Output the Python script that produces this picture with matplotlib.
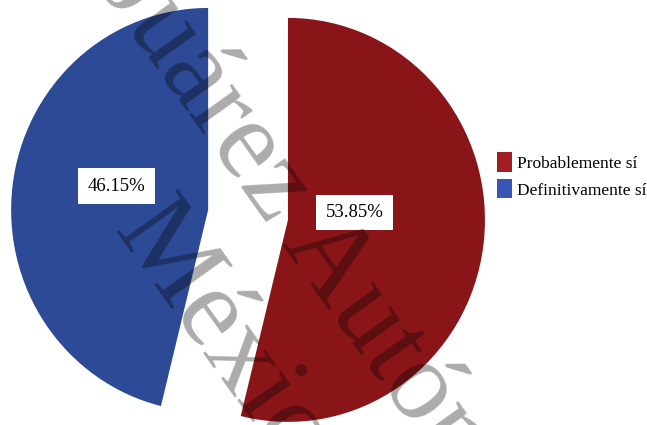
import matplotlib.pyplot as plt
from matplotlib.patches import Patch

# datos de la pregunta
categorias = ['Probablemente sí', 'Definitivamente sí']
porcentajes = [53.85, 46.15]
colores_pie = ['#8a1519', '#2d4a96']
colores_leyenda = ['#a41c24', '#3a56b4']

fig = plt.figure(figsize=(6.47, 4.25), dpi=100)
ax = fig.add_axes([0, 0, 1, 1])

wedges, textos, pcts = ax.pie(porcentajes, colors=colores_pie, startangle=90,
                              counterclock=False, explode=[0.204, 0.204],
                              autopct='%1.2f%%', pctdistance=0.4,
                              wedgeprops=dict(linewidth=0))

# etiquetas en caja blanca (rojo primero, luego azul)
ajustes = [(-0.06, 0.085), (-0.067, 0.069)]
for t, (dx, dy) in zip(pcts, ajustes):
    x, y = t.get_position()
    t.set_position((x + dx, y + dy))
    t.set_fontfamily('Liberation Serif')
    t.set_fontsize(13.5)
    t.set_bbox(dict(boxstyle='square,pad=0.5', facecolor='white', edgecolor='none'))

ax.set_aspect('auto')
ax.set_xlim(-1.259, 2.025)
ax.set_ylim(-1.040, 1.064)
ax.axis('off')

# marca de agua
ax.text(0.544, 0.304, 'Juárez Autónoma', transform=ax.transAxes, rotation=-54.5,
        ha='center', va='center', rotation_mode='anchor', fontsize=82,
        family='Liberation Serif', color='black', alpha=0.33)
ax.text(0.209, 0.494, 'México', transform=ax.transAxes, rotation=-54.5,
        ha='left', va='center', rotation_mode='anchor', fontsize=82,
        family='Liberation Serif', color='black', alpha=0.33)

handles = [Patch(facecolor=c, edgecolor='none') for c in colores_leyenda]
ax.legend(handles, categorias, loc='upper left', bbox_to_anchor=(0.768, 0.642),
          frameon=False, prop={'family': 'Liberation Serif', 'size': 12.5},
          handlelength=0.85, handleheight=1.35, handletextpad=0.3,
          labelspacing=0.42, borderaxespad=0, borderpad=0)

fig.savefig('out.png', dpi=100)
